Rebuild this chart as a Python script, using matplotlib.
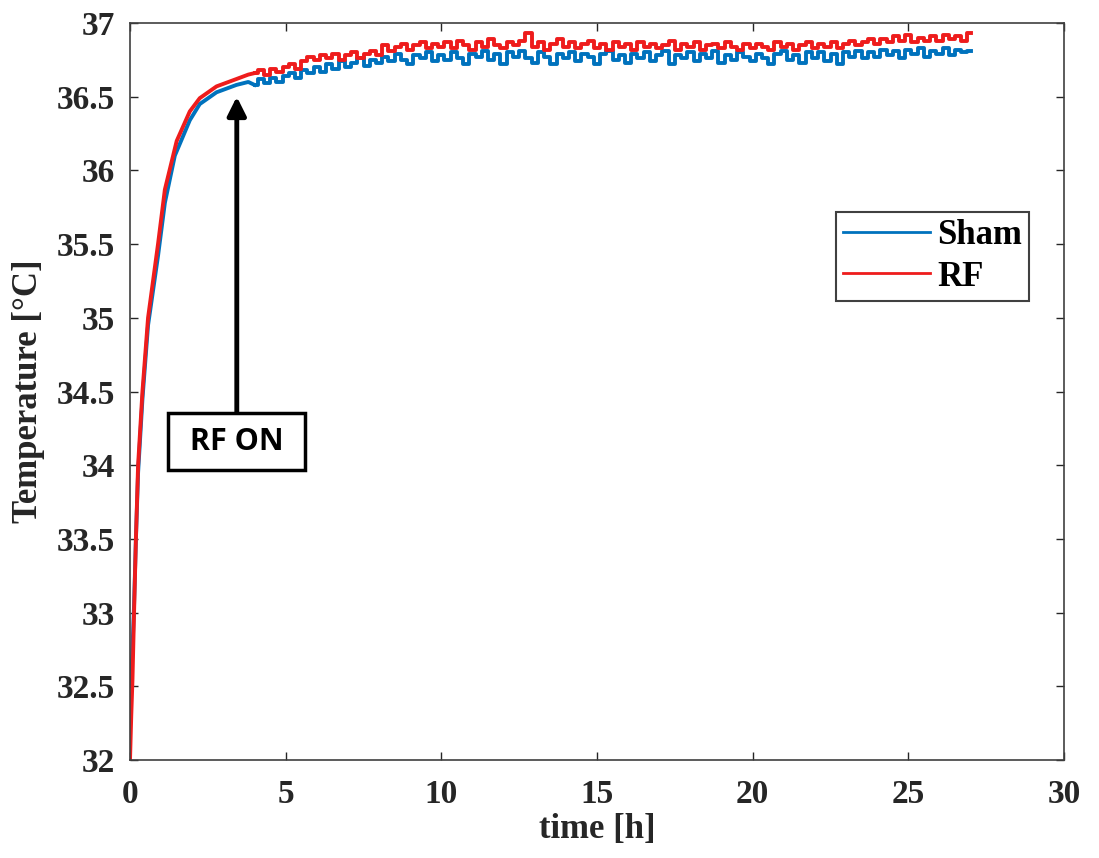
import numpy as np
import matplotlib
matplotlib.use('Agg')
import matplotlib.pyplot as plt

# rise phase
t_rise_sham = [0, 0.05, 0.08, 0.13, 0.19, 0.26, 0.4, 0.58, 0.9, 1.12, 1.44, 1.92, 2.24, 2.78, 3.42, 3.8, 4.0]
sham_rise = [32.5, 32.6, 32.75, 33.05, 33.5, 33.95, 34.45, 34.95, 35.42, 35.78, 36.1, 36.34, 36.45, 36.53, 36.58, 36.6, 36.58]

t_rise_rf = [0, 0.04, 0.08, 0.13, 0.19, 0.26, 0.4, 0.58, 0.9, 1.12, 1.5, 1.92, 2.24, 2.78, 3.42, 3.8, 4.0]
rf_rise = [32.0, 32.3, 32.55, 33.0, 33.5, 34.0, 34.5, 35.0, 35.5, 35.87, 36.2, 36.4, 36.49, 36.57, 36.62, 36.65, 36.66]

# plateau, one reading every 0.2 h from 4.0 h to 27.0 h
plateau_start = 4.0
plateau_end = 27.0

sham_plateau = [
    36.58, 36.62, 36.59, 36.63, 36.60, 36.64, 36.66, 36.63, 36.68, 36.66,
    36.70, 36.67, 36.72, 36.69, 36.74, 36.70, 36.73, 36.76, 36.71, 36.75,
    36.73, 36.77, 36.74, 36.79, 36.75, 36.72, 36.78, 36.76, 36.80, 36.74,
    36.78, 36.75, 36.80, 36.76, 36.72, 36.79, 36.77, 36.81, 36.75, 36.79,
    36.72, 36.80, 36.77, 36.81, 36.76, 36.73, 36.80, 36.77, 36.72, 36.79,
    36.76, 36.80, 36.74, 36.79, 36.77, 36.72, 36.79, 36.81, 36.75, 36.78,
    36.73, 36.79, 36.76, 36.80, 36.74, 36.78, 36.81, 36.72, 36.78, 36.76,
    36.80, 36.74, 36.79, 36.76, 36.81, 36.73, 36.78, 36.75, 36.80, 36.77,
    36.74, 36.79, 36.76, 36.72, 36.79, 36.81, 36.75, 36.78, 36.73, 36.80,
    36.76, 36.80, 36.74, 36.79, 36.72, 36.80, 36.77, 36.81, 36.76, 36.80,
    36.77, 36.82, 36.78, 36.81, 36.76, 36.82, 36.79, 36.83, 36.77, 36.81,
    36.79, 36.83, 36.78, 36.82, 36.80, 36.81,
]

rf_plateau = [
    36.66, 36.68, 36.65, 36.69, 36.67, 36.70, 36.72, 36.69, 36.74, 36.77,
    36.75, 36.78, 36.76, 36.79, 36.75, 36.78, 36.80, 36.76, 36.79, 36.81,
    36.78, 36.85, 36.81, 36.84, 36.86, 36.82, 36.85, 36.87, 36.83, 36.86,
    36.84, 36.87, 36.83, 36.88, 36.85, 36.82, 36.87, 36.84, 36.89, 36.85,
    36.83, 36.87, 36.85, 36.88, 36.93, 36.84, 36.87, 36.82, 36.86, 36.89,
    36.84, 36.87, 36.83, 36.86, 36.88, 36.83, 36.86, 36.82, 36.87, 36.84,
    36.86, 36.82, 36.87, 36.84, 36.86, 36.83, 36.85, 36.88, 36.82, 36.86,
    36.84, 36.87, 36.82, 36.85, 36.86, 36.83, 36.87, 36.84, 36.82, 36.86,
    36.83, 36.86, 36.84, 36.82, 36.87, 36.84, 36.86, 36.82, 36.85, 36.87,
    36.83, 36.86, 36.84, 36.87, 36.83, 36.86, 36.88, 36.85, 36.87, 36.89,
    36.86, 36.89, 36.87, 36.91, 36.88, 36.92, 36.87, 36.90, 36.88, 36.91,
    36.88, 36.92, 36.89, 36.91, 36.88, 36.93,
]

x_ticks = [0, 5, 10, 15, 20, 25, 30]
y_ticks = [32, 32.5, 33, 33.5, 34, 34.5, 35, 35.5, 36, 36.5, 37]
y_tick_labels = ['32', '32.5', '33', '33.5', '34', '34.5', '35', '35.5', '36', '36.5', '37']

rf_on_time = 3.43
rf_on_temp = 36.5

t_plateau = np.linspace(plateau_start, plateau_end, len(sham_plateau))

serif = 'Liberation Serif'
blue = '#0072BD'
red = '#EE1C1C'

fig = plt.figure(figsize=(10.99, 8.58), dpi=100)
ax = fig.add_axes([130 / 1099, 98 / 858, 934 / 1099, 737 / 858])

# smooth rise, then the quantised sensor readings as steps
ax.plot(t_rise_sham, sham_rise, color=blue, lw=2.8)
ax.plot(t_plateau, sham_plateau, color=blue, lw=2.8, drawstyle='steps-mid', label='Sham')
ax.plot(t_rise_rf, rf_rise, color=red, lw=2.8)
ax.plot(t_plateau, rf_plateau, color=red, lw=2.8, drawstyle='steps-mid', label='RF')

ax.set_xlim(0, 30)
ax.set_ylim(32, 37)
ax.set_xticks(x_ticks)
ax.set_yticks(y_ticks)
ax.set_yticklabels(y_tick_labels)

ax.tick_params(direction='in', top=True, right=True, length=6, width=1, colors='#262626')
ax.tick_params(axis='x', pad=14)
ax.tick_params(axis='y', pad=11)
for lab in ax.get_xticklabels() + ax.get_yticklabels():
    lab.set_fontfamily(serif)
    lab.set_fontweight('bold')
    lab.set_fontsize(24)
    lab.set_color('#262626')
for sp in ax.spines.values():
    sp.set_color('#404040')
    sp.set_linewidth(1.2)

ax.set_xlabel('time [h]', fontfamily=serif, fontweight='bold', fontsize=25, color='#262626', labelpad=2)
ax.set_ylabel('Temperature [°C]', fontfamily=serif, fontweight='bold', fontsize=25, color='#262626', labelpad=8)

leg = ax.legend(loc='upper right', bbox_to_anchor=(0.9625, 0.7436), borderaxespad=0,
                prop={'family': serif, 'weight': 'bold', 'size': 25},
                handlelength=2.5, handletextpad=0.2, borderpad=0.2, labelspacing=0.25,
                fancybox=False, framealpha=1, edgecolor='#404040')
leg.get_frame().set_linewidth(1.5)
for line in leg.get_lines():
    line.set_linewidth(2)

# RF ON marker
ax.annotate('', xy=(rf_on_time, rf_on_temp), xytext=(rf_on_time, 34.36),
            arrowprops=dict(arrowstyle='-|>', lw=3.5, color='black', mutation_scale=28, shrinkA=0, shrinkB=0))
ax.text(rf_on_time, 34.16, ' RF ON ', ha='center', va='center', fontfamily='Open Sans', fontweight='bold',
        fontsize=22, color='black',
        bbox=dict(boxstyle='square,pad=0.45', fc='white', ec='black', lw=2.5))

fig.savefig('out.png', dpi=100)
